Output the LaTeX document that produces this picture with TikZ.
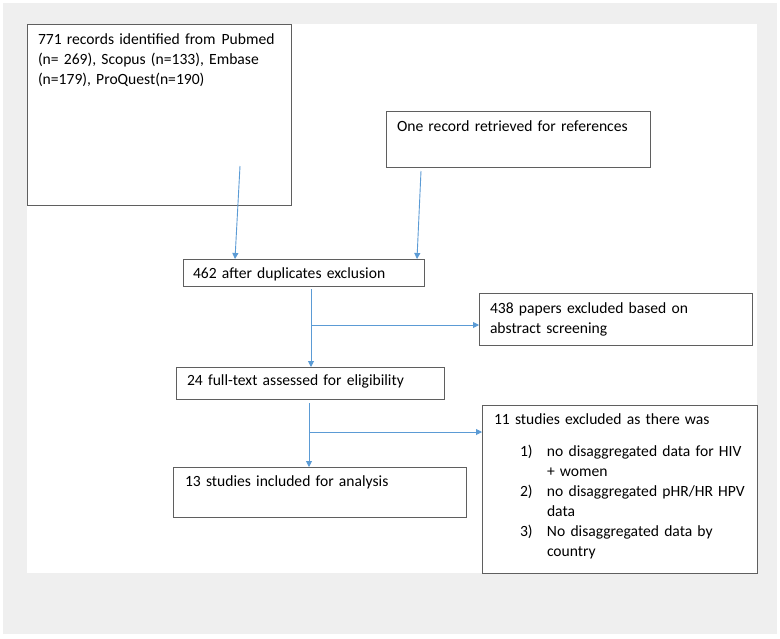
\documentclass[tikz,border=0pt]{standalone}
\usepackage{fontspec}
\setmainfont{Carlito}
\usepackage{tikz}
\usetikzlibrary{arrows.meta, calc, positioning}
\definecolor{framegray}{HTML}{EFEFEF}
\definecolor{boxgray}{HTML}{5F5F5F}
\definecolor{flowblue}{HTML}{5B9BD5}

\begin{document}
\begin{tikzpicture}[
    x=1pt, y=-1pt,
    box/.style={draw=boxgray, line width=0.9pt, anchor=north west, align=left, inner ysep=0pt, outer sep=0pt, font=\fontsize{15.6pt}{20pt}\selectfont},
    flow/.style={draw=flowblue, line width=0.9pt, -{Triangle[length=6pt,width=6pt]}}
]

% page frame
\fill[white] (0,0) rectangle (780,638);
\fill[framegray] (3,3) rectangle (777,634);
\fill[white] (27,24) rectangle (757,573);
\useasboundingbox (0,0) rectangle (780,638);

\node[box, inner xsep=11pt, text width=242pt, text height=20.5pt, text depth=160.5pt] (records) at (27,24) {771 records identified from\hspace{6pt}Pubmed\\(n= 269), Scopus (n=133), Embase\\(n=179), ProQuest(n=190)};
\node[box, inner xsep=11pt, text width=242pt, text height=20.5pt, text depth=35.5pt] (oneref) at (386,111) {One record retrieved for references};
\node[box, inner xsep=10pt, text width=221pt, text height=19.5pt, text depth=7.5pt] (dedup) at (183,259) {462 after duplicates exclusion};
\node[box, inner xsep=11pt, text width=251pt, text height=20.5pt, text depth=31.5pt] (abstract) at (479,293) {438 papers excluded based on\\abstract screening};
\node[box, inner xsep=11pt, text width=246pt, text height=18.5pt, text depth=13.5pt] (fulltext) at (176,367) {24 full-text assessed for eligibility};
\node[box, inner xsep=12pt, text width=251pt, text height=19.5pt, text depth=148.5pt] (excluded) at (482,405) {11 studies excluded as there was\\[12pt]
    \hspace*{26pt}\makebox[27pt][l]{1)}no disaggregated data for HIV\\
    \hspace*{53pt}+ women\\
    \hspace*{26pt}\makebox[27pt][l]{2)}no disaggregated pHR/HR HPV\\
    \hspace*{53pt}data\\
    \hspace*{26pt}\makebox[27pt][l]{3)}No disaggregated data by\\
    \hspace*{53pt}country};
\node[box, inner xsep=12pt, text width=269pt, text height=19.5pt, text depth=30.5pt] (included) at (173,467) {13 studies included for analysis};

% connectors
\draw[flow] ($(records.south west)+(213,-39)$) -- ($(dedup.north west)+(52,0)$);
\draw[flow] ($(oneref.south west)+(35,4)$) -- ($(dedup.north east)+(-7,0)$);

\coordinate (t1) at ($(dedup.south west)+(128,3)$);
\coordinate (b1) at ($(t1)+(0,36)$);
\draw[flow] (t1) -- (t1 |- fulltext.north);
\draw[flow] (b1) -- (b1 -| abstract.west);

\coordinate (t2) at ($(fulltext.south west)+(133,4)$);
\coordinate (b2) at ($(t2)+(0,29)$);
\draw[flow] (t2) -- (t2 |- included.north);
\draw[flow] (b2) -- (b2 -| excluded.west);

\end{tikzpicture}
\end{document}
